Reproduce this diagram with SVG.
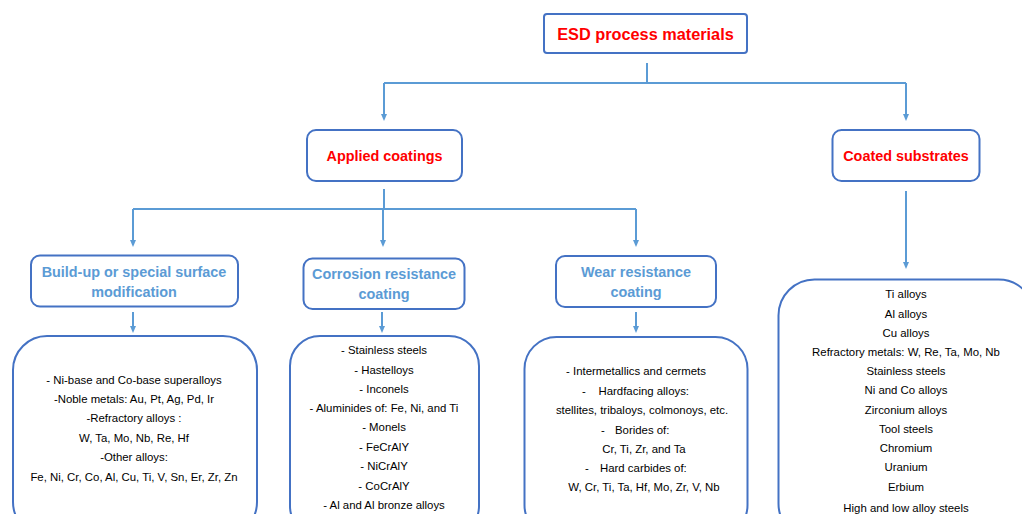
<svg xmlns="http://www.w3.org/2000/svg" width="1022" height="514" viewBox="0 0 1022 514">
<defs>
<marker id="ah" markerWidth="8" markerHeight="8" refX="4" refY="4" orient="auto" markerUnits="userSpaceOnUse">
<path d="M0,1 L7,4 L0,7 z" fill="#5B9BD5"/>
</marker>
<style>
.box{fill:#fff;stroke:#4472C4;stroke-width:2}
.con{fill:none;stroke:#5B9BD5;stroke-width:2}
.arr{fill:none;stroke:#5B9BD5;stroke-width:2;marker-end:url(#ah)}
.t1{font-family:"Liberation Sans",Arial,sans-serif;font-weight:bold;fill:#FF0000;text-anchor:middle}
.t2{font-family:"Liberation Sans",Arial,sans-serif;font-weight:bold;fill:#5B9BD5;text-anchor:middle;font-size:14.4px}
.tl{font-family:"Liberation Sans",Arial,sans-serif;fill:#000;text-anchor:middle;font-size:11.4px}
.ts{font-family:"Liberation Sans",Arial,sans-serif;fill:#000;font-size:11.4px}
</style>
</defs>
<rect width="1022" height="514" fill="#fff"/>
<g id="connectors">
<path class="con" d="M647,63 V83 M384,83 H906"/>
<path class="arr" d="M384,83 V118"/>
<path class="arr" d="M906,83 V118"/>
<path class="con" d="M384,189 V209 M133,209 H636"/>
<path class="arr" d="M133,209 V244"/>
<path class="arr" d="M383,209 V244"/>
<path class="arr" d="M636,209 V244"/>
<path class="arr" d="M906,191 V266"/>
<path class="arr" d="M133,312 V330"/>
<path class="arr" d="M382,312 V330"/>
<path class="arr" d="M636,312 V330"/>
</g>
<g id="n-esd">
<rect class="box" x="544" y="14" width="203" height="39" rx="3"/>
<text class="t1" x="645.5" y="40" font-size="16.3">ESD process materials</text>
</g>
<g id="n-applied">
<rect class="box" x="307" y="130" width="155" height="51" rx="9"/>
<text class="t1" x="384.5" y="161" font-size="14.4">Applied coatings</text>
</g>
<g id="n-coated">
<rect class="box" x="832.5" y="130" width="147" height="51" rx="9"/>
<text class="t1" x="906" y="161" font-size="14.4">Coated substrates</text>
</g>
<g id="n-buildup">
<rect class="box" x="31" y="255.5" width="207" height="51" rx="9"/>
<text class="t2" x="134" y="277">Build-up or special surface</text>
<text class="t2" x="134" y="297">modification</text>
</g>
<g id="n-corrosion">
<rect class="box" x="303.5" y="258.5" width="161" height="50.5" rx="9"/>
<text class="t2" x="384" y="279">Corrosion resistance</text>
<text class="t2" x="384" y="299">coating</text>
</g>
<g id="n-wear">
<rect class="box" x="556" y="256" width="160" height="51" rx="9"/>
<text class="t2" x="636" y="277">Wear resistance</text>
<text class="t2" x="636" y="297">coating</text>
</g>
<g id="n-list1">
<rect class="box" x="13" y="336" width="244" height="200" rx="34"/>
<text class="tl" x="134" y="383.5">- Ni-base and Co-base superalloys</text>
<text class="tl" x="134" y="402.5">-Noble metals: Au, Pt, Ag, Pd, Ir</text>
<text class="tl" x="134" y="422">-Refractory alloys :</text>
<text class="tl" x="134" y="441.5">W, Ta, Mo, Nb, Re, Hf</text>
<text class="tl" x="134" y="461">-Other alloys:</text>
<text class="tl" x="134" y="480.5">Fe, Ni, Cr, Co, Al, Cu, Ti, V, Sn, Er, Zr, Zn</text>
</g>
<g id="n-list2">
<rect class="box" x="290" y="336" width="189" height="200" rx="30"/>
<text class="tl" x="384" y="354">- Stainless steels</text>
<text class="tl" x="384" y="373.5">- Hastelloys</text>
<text class="tl" x="384" y="393">- Inconels</text>
<text class="tl" x="384" y="412">- Aluminides of: Fe, Ni, and Ti</text>
<text class="tl" x="384" y="431">- Monels</text>
<text class="tl" x="384" y="450.5">- FeCrAlY</text>
<text class="tl" x="384" y="470">- NiCrAlY</text>
<text class="tl" x="384" y="489.5">- CoCrAlY</text>
<text class="tl" x="384" y="509">- Al and Al bronze alloys</text>
</g>
<g id="n-list3">
<rect class="box" x="524.5" y="337" width="223" height="200" rx="32"/>
<text class="tl" x="636" y="374.5">- Intermetallics and cermets</text>
<text class="ts" x="582" y="395">-</text>
<text class="ts" x="598.5" y="395">Hardfacing alloys:</text>
<text class="tl" x="642" y="414">stellites, tribaloys, colmonoys, etc.</text>
<text class="ts" x="601" y="433.5">-</text>
<text class="ts" x="615" y="433.5">Borides of:</text>
<text class="tl" x="644" y="452.5">Cr, Ti, Zr, and Ta</text>
<text class="ts" x="585" y="471.5">-</text>
<text class="ts" x="600" y="471.5">Hard carbides of:</text>
<text class="tl" x="644" y="491">W, Cr, Ti, Ta, Hf, Mo, Zr, V, Nb</text>
</g>
<g id="n-list4">
<rect class="box" x="778.5" y="279.5" width="256" height="260" rx="36"/>
<text class="tl" x="906" y="298">Ti alloys</text>
<text class="tl" x="906" y="317.5">Al alloys</text>
<text class="tl" x="906" y="336.5">Cu alloys</text>
<text class="tl" x="906" y="356">Refractory metals: W, Re, Ta, Mo, Nb</text>
<text class="tl" x="906" y="375">Stainless steels</text>
<text class="tl" x="906" y="394">Ni and Co alloys</text>
<text class="tl" x="906" y="413.5">Zirconium alloys</text>
<text class="tl" x="906" y="433">Tool steels</text>
<text class="tl" x="906" y="452">Chromium</text>
<text class="tl" x="906" y="471">Uranium</text>
<text class="tl" x="906" y="490.5">Erbium</text>
<text class="tl" x="906" y="511.5">High and low alloy steels</text>
</g>
</svg>
